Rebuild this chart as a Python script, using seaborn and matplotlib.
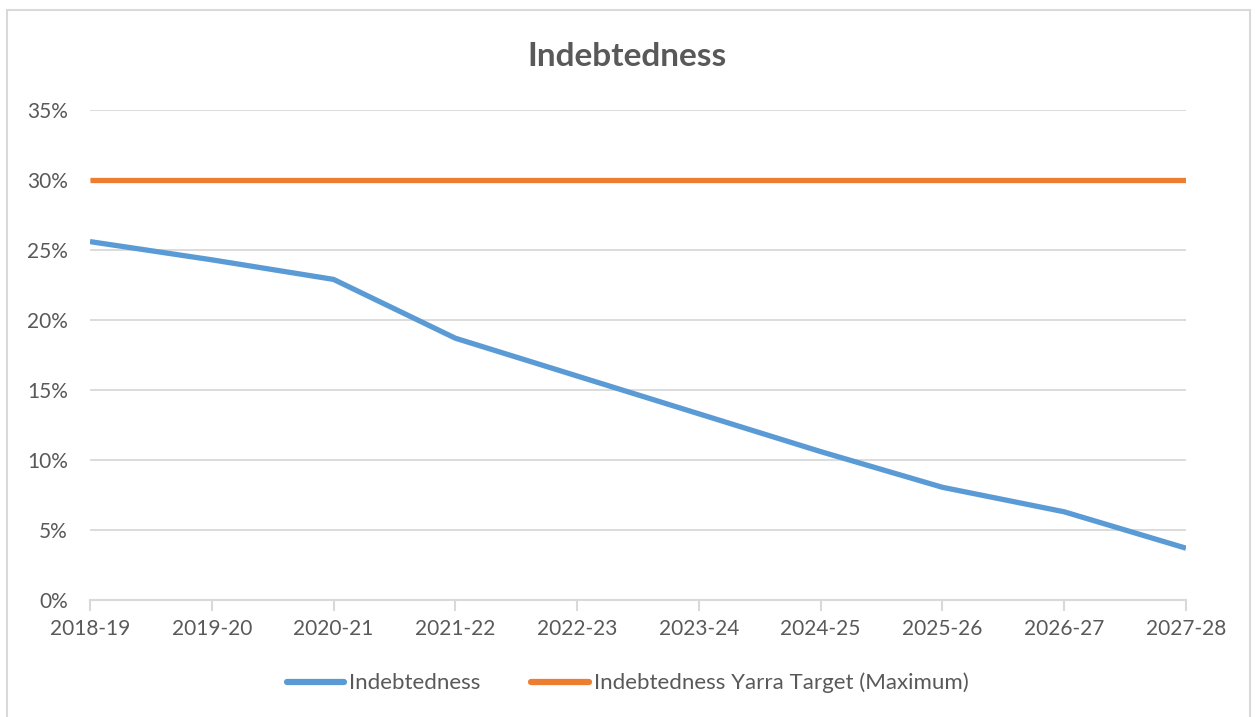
import matplotlib
matplotlib.use("Agg")
import matplotlib.pyplot as plt
import seaborn as sns
import pandas as pd
from matplotlib.patches import Rectangle
from matplotlib.ticker import FuncFormatter

years = ["2018-19", "2019-20", "2020-21", "2021-22", "2022-23",
         "2023-24", "2024-25", "2025-26", "2026-27", "2027-28"]
indebtedness = [25.6, 24.3, 22.9, 18.7, 16.0, 13.3, 10.6, 8.05, 6.3, 3.7]
target = [30, 30, 30, 30, 30, 30, 30, 30, 30, 30]
series_names = ["Indebtedness", "Indebtedness Yarra Target (Maximum)"]
colors = ["#5B9BD5", "#ED7D31"]

sns.set_theme(style="white")
plt.rcParams['font.family'] = ['Lato', 'DejaVu Sans']

df = pd.DataFrame({
    "year": years * 2,
    "value": indebtedness + target,
    "series": [series_names[0]] * len(years) + [series_names[1]] * len(years),
})
df["x"] = list(range(len(years))) * 2

fig = plt.figure(figsize=(12.55, 7.17), dpi=100)
ax = fig.add_axes([90 / 1255, 1 - 600 / 717, (1186 - 90) / 1255, (600 - 110) / 717])

sns.lineplot(data=df, x="x", y="value", hue="series", palette=colors,
             linewidth=3.8, ax=ax, legend=True, solid_capstyle="butt")

ax.set_xlim(0, len(years) - 1)
ax.set_ylim(0, 35)
ax.set_yticks(range(0, 36, 5))
ax.yaxis.set_major_formatter(FuncFormatter(lambda v, p: f"{int(v)}%"))
ax.set_xticks(range(len(years)))
ax.set_xticklabels(years)
ax.set_xlabel("")
ax.set_ylabel("")

grid_col = "#D9D9D9"
text_col = "#595959"
ax.grid(axis="y", color=grid_col, linewidth=1.3)
ax.set_axisbelow(True)
for s in ["top", "right", "left"]:
    ax.spines[s].set_visible(False)
ax.spines["bottom"].set_color(grid_col)
ax.spines["bottom"].set_linewidth(1.5)
ax.tick_params(axis="x", direction="out", length=8, width=1.5, color=grid_col,
               colors=text_col, labelsize=15, pad=6, bottom=True)
ax.tick_params(axis="y", length=0, labelcolor=text_col, labelsize=15, pad=16, left=False)
for lbl in ax.get_xticklabels():
    lbl.set_color(text_col)

fig.text(0.5, 1 - 56 / 717, "Indebtedness", ha="center", va="center",
         fontsize=24, fontweight="bold", color=text_col)

handles, labels = ax.get_legend_handles_labels()
ax.legend_.remove()
leg = fig.legend(handles, labels, loc="center", bbox_to_anchor=(0.5, 1 - 683 / 717),
                 ncol=2, frameon=False, fontsize=16, handlelength=2.6,
                 handletextpad=0.2, columnspacing=2.3)
for t in leg.get_texts():
    t.set_color(text_col)
for h in leg.legend_handles:
    h.set_linewidth(4.5)
    h.set_solid_capstyle("round")

fig.patches.append(Rectangle((7 / 1255, -0.01), (1250 - 7) / 1255, 1 - 10 / 717 + 0.01,
                             transform=fig.transFigure, fill=False,
                             edgecolor=grid_col, linewidth=1.5))

fig.savefig("out.png", dpi=100)
